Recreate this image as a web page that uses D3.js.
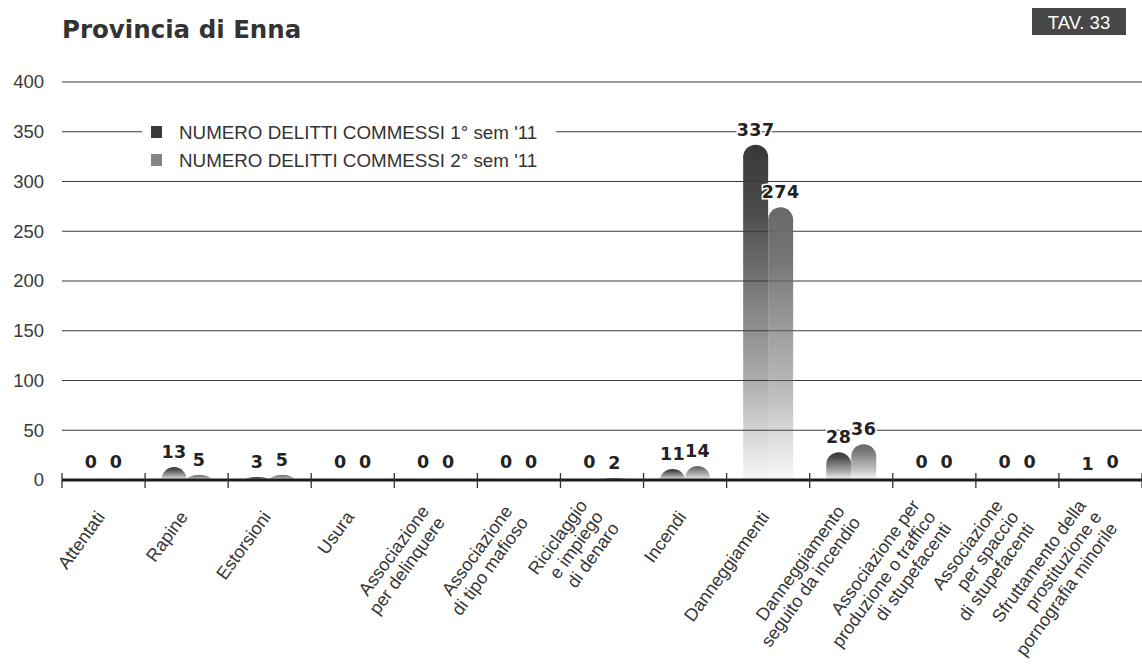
<!DOCTYPE html>
<html><head><meta charset="utf-8">
<script src="https://cdn.jsdelivr.net/npm/d3@7"></script>
<style>body{margin:0;background:#fff}svg{display:block}</style>
</head><body>
<svg id="c" width="1142" height="664"></svg>
<script>
const categories = [
  ["Attentati"],
  ["Rapine"],
  ["Estorsioni"],
  ["Usura"],
  ["Associazione","per delinquere"],
  ["Associazione","di tipo mafioso"],
  ["Riciclaggio","e impiego","di denaro"],
  ["Incendi"],
  ["Danneggiamenti"],
  ["Danneggiamento","seguito da incendio"],
  ["Associazione per","produzione o traffico","di stupefacenti"],
  ["Associazione","per spaccio","di stupefacenti"],
  ["Sfruttamento della","prostituzione e","pornografia minorile"]
];
const series1 = [0,13,3,0,0,0,0,11,337,28,0,0,1];
const series2 = [0,5,5,0,0,0,2,14,274,36,0,0,0];
const seriesNames = ["NUMERO DELITTI COMMESSI 1° sem '11","NUMERO DELITTI COMMESSI 2° sem '11"];
const yTicks = [0,50,100,150,200,250,300,350,400];
const title = "Provincia di Enna";
const tav = "TAV. 33";

const svg = d3.select("#c");
const colors = ["#383838","#686868"];
const legendColors = ["#3b3b3b","#858585"];

const x = d3.scaleBand().domain(d3.range(categories.length)).range([62,1142]).padding(0);
const xs = d3.scaleBand().domain([0,1]).range([x.bandwidth()/2-25, x.bandwidth()/2+25]).paddingInner(0);
const y = d3.scaleLinear().domain([0,400]).range([480,82]);

// defs gradients
const defs = svg.append("defs");
colors.forEach((c,i)=>{
  const g = defs.append("linearGradient").attr("id","g"+i).attr("x1",0).attr("y1",0).attr("x2",0).attr("y2",1);
  [[0,1],[0.2,0.9],[0.45,0.65],[0.7,0.42],[0.85,0.22],[1,0.04]].forEach(([o,a])=>
    g.append("stop").attr("offset",o).attr("stop-color",c).attr("stop-opacity",a));
});

// title
svg.append("text").attr("x",62).attr("y",38).text(title)
  .attr("font-family","DejaVu Sans").attr("font-weight","bold").attr("font-size",24.5).attr("fill","#333");
svg.append("rect").attr("x",1032).attr("y",8).attr("width",94).attr("height",27).attr("fill","#474747");
svg.append("text").attr("x",1079).attr("y",29).attr("text-anchor","middle").text(tav)
  .attr("font-family","Liberation Sans").attr("font-size",18.5).attr("fill","#fff");

// gridlines
svg.append("g").selectAll("line").data(yTicks.filter(d=>d>0)).join("line")
  .attr("x1",62).attr("x2",1142).attr("y1",d=>y(d)).attr("y2",d=>y(d))
  .attr("stroke","#3a3a3a").attr("stroke-width",1.2);
svg.append("g").selectAll("text").data(yTicks).join("text")
  .attr("x",44).attr("y",d=>y(d)).attr("dy","0.35em").attr("text-anchor","end")
  .text(d=>d).attr("font-family","Liberation Sans").attr("font-size",18.5).attr("fill","#3a3a3a");

// bars
function barPath(x0,w,v){
  const base=y(0), top=y(v), h=base-top;
  if(h<=0) return "";
  const rx=w/2, ry=Math.min(w/2,h);
  return `M${x0},${base}L${x0},${top+ry}A${rx},${ry} 0 0 1 ${x0+w},${top+ry}L${x0+w},${base}Z`;
}
const data = [];
categories.forEach((c,i)=>{
  [series1[i],series2[i]].forEach((v,s)=>data.push({i,s,v}));
});
svg.append("g").selectAll("path").data(data).join("path")
  .attr("d",d=>barPath(x(d.i)+xs(d.s),xs.bandwidth(),d.v))
  .attr("fill",d=>`url(#g${d.s})`);

// axis baseline + ticks
const ticksX = d3.range(categories.length+1).map(i=> i<categories.length ? x(i) : x.range()[1]);
svg.append("line").attr("x1",62).attr("x2",1142).attr("y1",y(0)).attr("y2",y(0))
  .attr("stroke","#1e1e1e").attr("stroke-width",3.2);
svg.append("g").selectAll("line").data(ticksX).join("line")
  .attr("x1",d=>d).attr("x2",d=>d).attr("y1",y(0)-7).attr("y2",y(0)+8)
  .attr("stroke","#333").attr("stroke-width",1.3);

// value labels
svg.append("g").selectAll("text").data(data).join("text")
  .attr("x",d=>x(d.i)+xs(d.s)+xs.bandwidth()/2)
  .attr("y",d=>y(d.v)-(d.v===0?12:9))
  .attr("text-anchor","middle").text(d=>d.v)
  .attr("font-family","DejaVu Sans").attr("font-weight","bold").attr("font-size",17.5)
  .attr("letter-spacing",0.5)
  .attr("fill","#222").attr("stroke","#fff").attr("stroke-width",3).attr("paint-order","stroke");

// x labels
const lh = 19.5;
const xl = svg.append("g");
categories.forEach((lines,i)=>{
  const cx = x(i)+x.bandwidth()/2 + 2, cy = 517;
  const t = xl.append("text").attr("transform",`translate(${cx},${cy}) rotate(-54)`)
    .attr("font-family","Liberation Sans").attr("font-size",18).attr("fill","#333")
    .attr("text-anchor","end");
  const n = lines.length;
  lines.forEach((L,k)=> t.append("tspan").attr("x",0).attr("y",(k-(n-1)/2)*lh).text(L));
});

// legend
svg.append("rect").attr("x",142).attr("y",118).attr("width",414).attr("height",58).attr("fill","#fff");
const lg = svg.append("g");
seriesNames.forEach((n,i)=>{
  lg.append("rect").attr("x",151).attr("y",126+i*28).attr("width",11).attr("height",12).attr("fill",legendColors[i]);
  lg.append("text").attr("x",179).attr("y",132+i*28).attr("dy","0.35em").text(n)
    .attr("font-family","Liberation Sans").attr("font-size",18.8).attr("fill","#333");
});
</script>
</body></html>
